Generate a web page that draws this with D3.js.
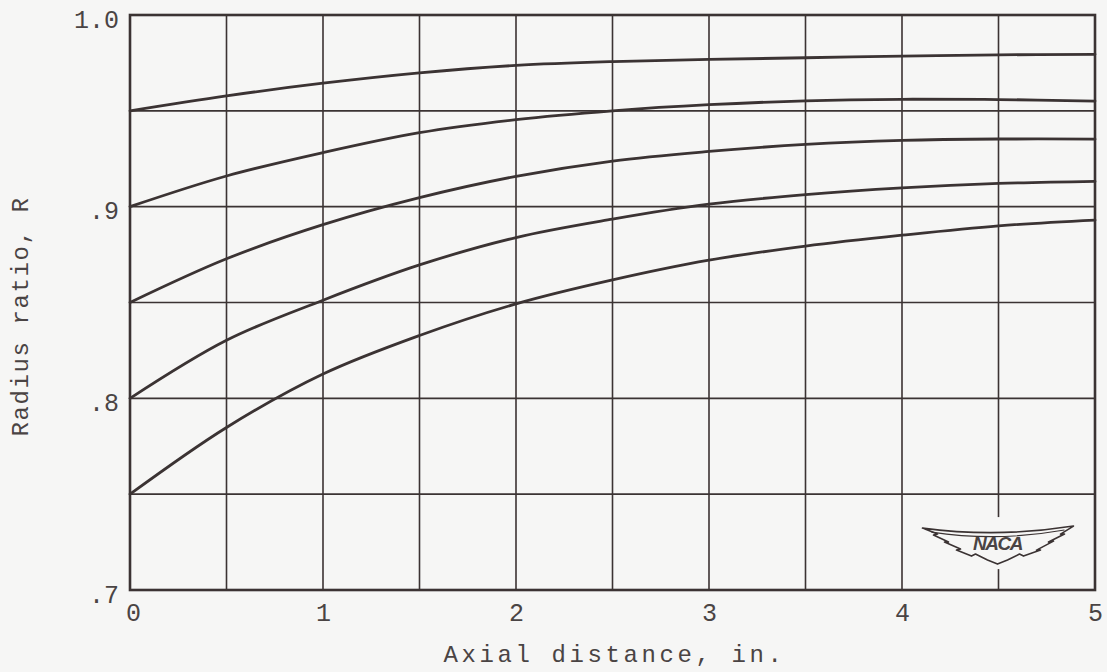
<!DOCTYPE html>
<html>
<head>
<meta charset="utf-8">
<script src="https://cdn.jsdelivr.net/npm/d3@7"></script>
<style>
  html, body { margin: 0; padding: 0; background: #f6f6f5; }
  svg { display: block; }
  text { font-family: "Liberation Mono", "DejaVu Sans Mono", monospace; fill: #4a4444; }
</style>
</head>
<body>
<svg id="chart" width="1107" height="672"></svg>
<script>
// Axial stations (in.) at which each curve was read
const axialDistance = [0, 0.5, 1, 1.5, 2, 2.5, 3, 3.5, 4, 4.5, 5];

// Radius ratio along the passage, one curve per starting ratio
const ratioFrom095 = [0.950, 0.9578, 0.9644, 0.9698, 0.9737, 0.9757, 0.9768, 0.9777, 0.9785, 0.9792, 0.9795];
const ratioFrom090 = [0.900, 0.9160, 0.9282, 0.9386, 0.9454, 0.9500, 0.9532, 0.9552, 0.9560, 0.9559, 0.9551];
const ratioFrom085 = [0.850, 0.8728, 0.8906, 0.9047, 0.9158, 0.9238, 0.9288, 0.9325, 0.9346, 0.9353, 0.9352];
const ratioFrom080 = [0.800, 0.8303, 0.8512, 0.8696, 0.8839, 0.8935, 0.9013, 0.9063, 0.9098, 0.9121, 0.9132];
const ratioFrom075 = [0.750, 0.7848, 0.8127, 0.8328, 0.8493, 0.8618, 0.8721, 0.8794, 0.8851, 0.8900, 0.8930];

const curves = [ratioFrom095, ratioFrom090, ratioFrom085, ratioFrom080, ratioFrom075];

// Axis ticks and grid spacing
const xTickValues = [0, 1, 2, 3, 4, 5];
const xTickLabels = ["0", "1", "2", "3", "4", "5"];
const yTickValues = [0.7, 0.8, 0.9, 1.0];
const yTickLabels = [".7", ".8", ".9", "1.0"];
const xGrid = [0.5, 1, 1.5, 2, 2.5, 3, 3.5, 4, 4.5];
const yGrid = [0.75, 0.8, 0.85, 0.9, 0.95];

const ink = "#3b3333";
const svg = d3.select("#chart");
const plotLeft = 130, plotRight = 1095, plotTop = 15, plotBottom = 590;

const x = d3.scaleLinear().domain([0, 5]).range([plotLeft, plotRight]);
const y = d3.scaleLinear().domain([0.7, 1.0]).range([plotBottom, plotTop]);

// grid
const grid = svg.append("g");
grid.selectAll("line.v").data(xGrid).join("line").attr("class", "v")
  .attr("x1", d => x(d)).attr("x2", d => x(d))
  .attr("y1", plotTop).attr("y2", plotBottom)
  .attr("stroke", ink).attr("stroke-width", 1.6);
grid.selectAll("line.h").data(yGrid).join("line").attr("class", "h")
  .attr("x1", plotLeft).attr("x2", plotRight)
  .attr("y1", d => y(d)).attr("y2", d => y(d))
  .attr("stroke", ink).attr("stroke-width", 1.6);

// frame
svg.append("rect")
  .attr("x", plotLeft).attr("y", plotTop)
  .attr("width", plotRight - plotLeft).attr("height", plotBottom - plotTop)
  .attr("fill", "none").attr("stroke", ink).attr("stroke-width", 2.6);

// curves
const line = d3.line()
  .x((d, i) => x(axialDistance[i]))
  .y(d => y(d))
  .curve(d3.curveCatmullRom.alpha(0.5));

svg.append("g").selectAll("path").data(curves).join("path")
  .attr("d", line)
  .attr("fill", "none")
  .attr("stroke", ink)
  .attr("stroke-width", 2.8)
  .attr("stroke-linecap", "round");

// tick labels
const xAxis = d3.axisBottom(x).tickValues(xTickValues)
  .tickSize(0).tickPadding(0)
  .tickFormat((d, i) => xTickLabels[i]);
const gx = svg.append("g").attr("transform", `translate(0,${plotBottom})`).call(xAxis);
gx.select(".domain").remove();
gx.selectAll("text")
  .attr("dy", null).attr("y", 31)
  .attr("font-size", 25)
  .style("font-family", '"Liberation Mono", monospace')
  .attr("fill", "#4a4444");
gx.selectAll(".tick").filter(d => d === 0).select("text").attr("x", 3);

const yAxis = d3.axisLeft(y).tickValues(yTickValues)
  .tickSize(0).tickPadding(0)
  .tickFormat((d, i) => yTickLabels[i]);
const gy = svg.append("g").attr("transform", `translate(${plotLeft - 11},0)`).call(yAxis);
gy.select(".domain").remove();
gy.selectAll("text")
  .attr("dy", null).attr("y", 12)
  .attr("font-size", 25)
  .style("font-family", '"Liberation Mono", monospace')
  .attr("fill", "#4a4444");

// axis titles
svg.append("text")
  .attr("x", x(2.5) + 2).attr("y", 662)
  .attr("text-anchor", "middle")
  .attr("font-size", 24)
  .attr("letter-spacing", 3.6)
  .text("Axial distance, in.");

svg.append("text")
  .attr("transform", `translate(28,${y(0.85) + 14}) rotate(-90)`)
  .attr("text-anchor", "middle")
  .attr("font-size", 24)
  .attr("letter-spacing", 1.6)
  .text("Radius ratio, R");

// NACA wing emblem
const logo = svg.append("g")
  .attr("transform", `translate(${x(4.5) - 1},${y(0.725) + 1})`);
logo.append("rect").attr("x", -4).attr("y", -26).attr("width", 8).attr("height", 52)
  .attr("fill", "#f6f6f5");
logo.append("path")
  .attr("d", "M-75,-15 Q0,-5 76,-17 L63,-9 L67,-9 L51,-1 L56,-2 L39,7 L43,7 L26,13 L22,11 L10,17 L0,21 L-10,17 L-22,11 L-26,13 L-41,7 L-37,6 L-53,-1 L-49,-1 L-64,-8 L-60,-9 Z")
  .attr("fill", "#f6f6f5").attr("stroke", ink).attr("stroke-width", 1.6)
  .attr("stroke-linejoin", "round");
logo.append("path")
  .attr("d", "M-66,-11 Q0,-1 67,-13")
  .attr("fill", "none").attr("stroke", ink).attr("stroke-width", 1.1);
logo.append("text")
  .attr("x", 0).attr("y", 7)
  .attr("text-anchor", "middle")
  .attr("font-size", 19)
  .attr("font-weight", "bold")
  .attr("letter-spacing", -1.5)
  .attr("font-style", "italic")
  .style("font-family", '"Liberation Sans Narrow", "Liberation Sans", sans-serif')
  .attr("fill", "#2e2828")
  .text("NACA");
</script>
</body>
</html>
